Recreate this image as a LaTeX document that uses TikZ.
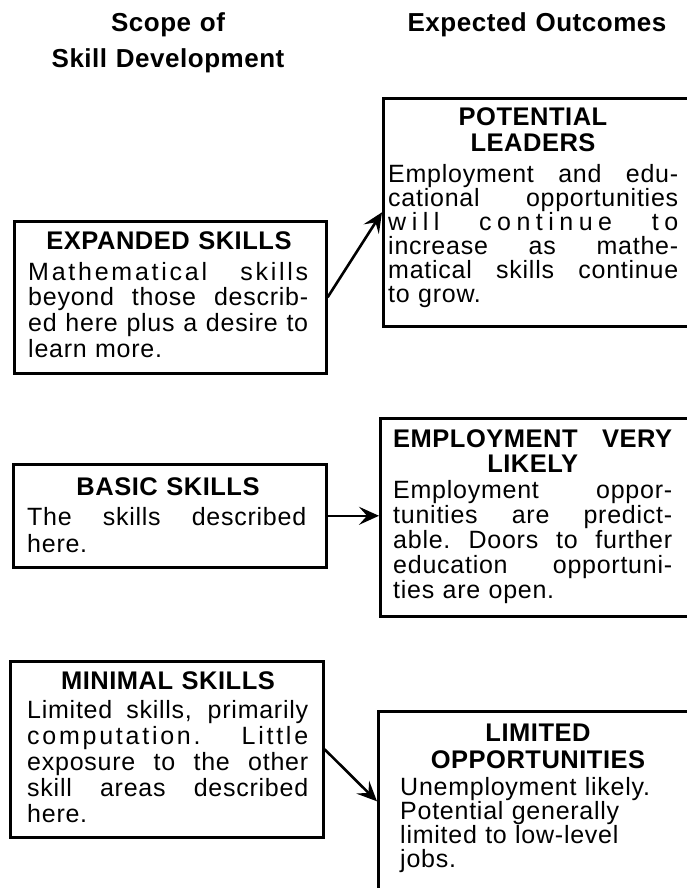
\documentclass[tikz,border=0pt]{standalone}
\usepackage{fontspec}
\setmainfont{Liberation Sans}
\newfontfamily\bodyfont[LetterSpace=3]{Liberation Sans}
\newfontfamily\headfont[LetterSpace=2]{Liberation Sans}
\usetikzlibrary{arrows.meta}
\newcommand\jl[1]{\leavevmode\hbox to \linewidth{\spaceskip=0.28em plus 1fil minus 0.05em\relax\xspaceskip=0.3em plus 1fil minus 0.05em\relax #1}}
\newcommand\jls[2]{\jl{\addfontfeature{LetterSpace=#1}#2}}
\tikzset{
  box/.style={draw, line width=2.6pt, inner sep=0pt, anchor=north west},
  head/.style={font=\headfont\bfseries\fontsize{26}{36}\selectfont, inner sep=0pt, anchor=base, align=center, text width=300pt},
  title/.style={font=\headfont\bfseries\fontsize{25.5}{#1}\selectfont, inner sep=0pt, anchor=base, align=center, text width=300pt},
  title/.default=26.5,
  body/.style={font=\bodyfont\fontsize{25}{#1}\selectfont, inner sep=0pt, anchor=base west, align=left},
  body/.default=25.5,
  conn/.style={line width=2.6pt, -{Stealth[length=20pt,width=18pt,inset=8pt]}}
}
\begin{document}
\begin{tikzpicture}[x=1pt,y=-1pt]
\useasboundingbox (0,0) rectangle (686,888);
\fill[white] (0,0) rectangle (686,888);

% column headers
\node[head] (hleft) at (168,32) {Scope of\\Skill Development};
\node[head] (hright) at (537,32) {Expected Outcomes};

% boxes
\node[box, minimum width=312pt, minimum height=152pt] (exp) at (13,220) {};
\node[box, minimum width=313pt, minimum height=103pt] (basic) at (12,463) {};
\node[box, minimum width=313pt, minimum height=176pt] (mini) at (9,660) {};
\node[box, minimum width=310pt, minimum height=228pt] (lead) at (382,97) {};
\node[box, minimum width=313pt, minimum height=198pt] (emp) at (379,417) {};
\node[box, minimum width=315pt, minimum height=180pt] (lim) at (377,710) {};

% left texts
\node[title] (expt) at (169,249) {EXPANDED SKILLS};
\node[body=25.7, text width=280pt] (expb) at (28,280)
  {\jls{11}{Mathematical skills}\\\jl{beyond those describ-}\\\jl{ed here plus a desire to}\\learn more.};

\node[title] (basict) at (168,495) {BASIC SKILLS};
\node[body=27, text width=279pt] (basicb) at (27,525)
  {\jl{The skills described}\\here.};

\node[title] (minit) at (168,689) {MINIMAL SKILLS};
\node[body=26.2, text width=281pt] (minib) at (27,718)
  {\jl{Limited skills, primarily}\\\jls{11}{computation. Little}\\\jl{exposure to the other}\\\jl{skill areas described}\\here.};

% right texts
\node[title=26] (leadt) at (533,125) {POTENTIAL\\LEADERS};
\node[body=24, text width=290pt] (leadb) at (388,182)
  {\jl{Employment and edu-}\\\jl{cational opportunities}\\\jls{22}{will continue to}\\\jl{increase as mathe-}\\\jl{matical skills continue}\\to grow.};

\node[title=25, anchor=base west, text width=279pt] (empt) at (393,447) {\jl{EMPLOYMENT VERY}\\LIKELY};
\node[body=25, text width=279pt] (empb) at (393,498)
  {\jl{Employment oppor-}\\\jl{tunities are predict-}\\\jl{able. Doors to further}\\\jl{education opportuni-}\\ties are open.};

\node[title=27] (limt) at (538,741) {LIMITED\\OPPORTUNITIES};
\node[body=24.3, text width=290pt] (limb) at (400,795)
  {Unemployment likely.\\Potential generally\\limited to low-level\\jobs.};

% connectors
\draw[conn] (exp.east) -- (lead.west);
\draw[conn] (basic.east) -- (basic.east -| emp.west);
\draw[conn] (mini.east) -- (lim.west);
\end{tikzpicture}
\end{document}
